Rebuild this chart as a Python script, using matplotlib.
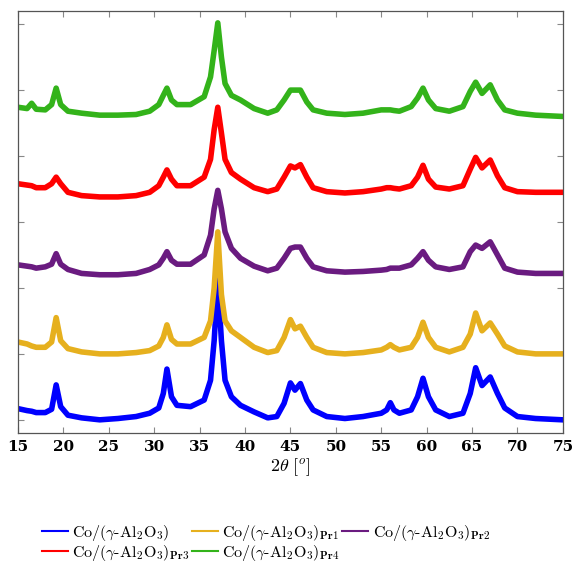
import numpy as np
import matplotlib
matplotlib.use('Agg')
import matplotlib.pyplot as plt

plt.rcParams['mathtext.fontset'] = 'cm'
plt.rcParams['font.family'] = 'serif'
plt.rcParams['font.serif'] = ['DejaVu Serif']

# angulos 2theta (mais densos perto dos picos)
theta2 = [15, 16, 16.5, 17, 18, 18.7, 19.2, 19.7, 20.5, 22, 24, 26, 28, 29.5, 30.5,
          31, 31.4, 31.9, 32.5, 34, 35.5, 36.2, 36.6, 37.0, 37.4, 37.8, 38.5, 39.5,
          41, 42.5, 43.5, 44.3, 45.0, 45.5, 46.1, 46.8, 47.5, 49, 51, 53, 55, 55.6,
          56.0, 56.4, 57, 58.3, 59.0, 59.6, 60.2, 61, 62.5, 64, 64.8, 65.4, 66.1,
          67.0, 67.8, 68.6, 70, 72, 75]

# intensidades (u.a., ja deslocadas verticalmente)
co_al2o3 = [0.17, 0.14, 0.13, 0.11, 0.11, 0.16, 0.53, 0.2, 0.07, 0.03, 0.0, 0.02,
            0.05, 0.1, 0.18, 0.4, 0.77, 0.35, 0.22, 0.2, 0.3, 0.6, 1.2, 2.12, 1.2,
            0.6, 0.35, 0.22, 0.12, 0.03, 0.05, 0.25, 0.56, 0.45, 0.55, 0.3, 0.15,
            0.05, 0.02, 0.05, 0.1, 0.15, 0.26, 0.15, 0.1, 0.15, 0.35, 0.63, 0.35,
            0.15, 0.05, 0.1, 0.4, 0.79, 0.52, 0.65, 0.4, 0.18, 0.05, 0.02, 0.0]
co_pr1 = [1.18, 1.15, 1.12, 1.1, 1.1, 1.18, 1.55, 1.2, 1.08, 1.03, 1.0, 1.0, 1.02,
          1.05, 1.12, 1.25, 1.44, 1.22, 1.15, 1.15, 1.25, 1.5, 2.0, 2.85, 1.9, 1.5,
          1.35, 1.25, 1.1, 1.02, 1.05, 1.25, 1.52, 1.38, 1.42, 1.25, 1.1, 1.02, 1.0,
          1.02, 1.06, 1.1, 1.14, 1.1, 1.06, 1.1, 1.25, 1.48, 1.25, 1.1, 1.03, 1.1,
          1.3, 1.62, 1.35, 1.47, 1.3, 1.12, 1.03, 1.0, 1.0]
co_pr2 = [2.35, 2.33, 2.32, 2.3, 2.32, 2.36, 2.52, 2.36, 2.28, 2.22, 2.2, 2.2, 2.22,
          2.28, 2.35, 2.45, 2.55, 2.42, 2.36, 2.36, 2.5, 2.8, 3.2, 3.48, 3.2, 2.85,
          2.6, 2.45, 2.33, 2.26, 2.3, 2.45, 2.6, 2.62, 2.62, 2.45, 2.32, 2.26, 2.24,
          2.25, 2.27, 2.28, 2.3, 2.3, 2.3, 2.35, 2.45, 2.55, 2.42, 2.32, 2.28, 2.32,
          2.55, 2.65, 2.6, 2.7, 2.5, 2.3, 2.24, 2.22, 2.22]
co_pr3 = [3.58, 3.56, 3.55, 3.52, 3.52, 3.58, 3.68, 3.58, 3.45, 3.4, 3.38, 3.38, 3.4,
          3.45, 3.55, 3.68, 3.79, 3.65, 3.55, 3.55, 3.68, 3.95, 4.4, 4.74, 4.35, 3.95,
          3.75, 3.65, 3.52, 3.46, 3.5, 3.68, 3.85, 3.82, 3.87, 3.68, 3.52, 3.46, 3.44,
          3.46, 3.5, 3.52, 3.52, 3.51, 3.5, 3.55, 3.68, 3.86, 3.65, 3.53, 3.5, 3.55,
          3.8, 3.98, 3.82, 3.94, 3.7, 3.52, 3.46, 3.45, 3.45]
co_pr4 = [4.74, 4.72, 4.8, 4.71, 4.7, 4.78, 5.03, 4.78, 4.68, 4.65, 4.62, 4.62, 4.63,
          4.68, 4.78, 4.92, 5.03, 4.85, 4.78, 4.78, 4.9, 5.2, 5.6, 6.02, 5.5, 5.1,
          4.92, 4.85, 4.72, 4.65, 4.7, 4.85, 5.0, 5.0, 5.0, 4.82, 4.7, 4.65, 4.63,
          4.65, 4.7, 4.7, 4.7, 4.69, 4.68, 4.75, 4.88, 5.03, 4.85, 4.72, 4.68, 4.75,
          4.98, 5.12, 4.95, 5.08, 4.85, 4.7, 4.65, 4.62, 4.6]

series = [co_al2o3, co_pr1, co_pr2, co_pr3, co_pr4]
cores = ['#0000ff', '#e6b01e', '#6a1b80', '#ff0000', '#33b31a']
rotulos = [r'$\mathrm{Co/(}\gamma\mathrm{\text{-}Al_2O_3)}$',
           r'$\mathrm{Co/(}\gamma\mathrm{\text{-}Al_2O_3)}_{\mathbf{Pr1}}$',
           r'$\mathrm{Co/(}\gamma\mathrm{\text{-}Al_2O_3)}_{\mathbf{Pr2}}$',
           r'$\mathrm{Co/(}\gamma\mathrm{\text{-}Al_2O_3)}_{\mathbf{Pr3}}$',
           r'$\mathrm{Co/(}\gamma\mathrm{\text{-}Al_2O_3)}_{\mathbf{Pr4}}$']

fig = plt.figure(figsize=(5.72, 5.62), dpi=100)
ax = fig.add_axes([0.0315, 0.2295, 0.9525, 0.751])

linhas = []
for y, c, r in zip(series, cores, rotulos):
    l, = ax.plot(theta2, y, color=c, lw=4, label=r)
    linhas.append(l)

ax.set_xlim(15, 75)
ax.set_ylim(-0.2, 6.2)
ax.set_xticks(np.arange(15, 76, 5))
ax.set_xticklabels([str(v) for v in range(15, 76, 5)], fontsize=11,
                   fontweight='bold', family='DejaVu Serif')
ax.set_yticks(range(0, 7))
ax.set_yticklabels([])
ax.tick_params(direction='in', top=True, right=True, length=4, color='#888888', pad=5)
for s in ax.spines.values():
    s.set_color('#555555')
    s.set_linewidth(0.9)

ax.set_xlabel(r'$2\theta\ [^o]$', fontsize=13, labelpad=2)

# legenda em linhas: a ordem abaixo preenche as colunas linha a linha
ordem = [0, 3, 1, 4, 2]
leg = ax.legend([linhas[i] for i in ordem], [rotulos[i] for i in ordem],
                loc='upper center', bbox_to_anchor=(0.455, -0.178), ncol=3, frameon=False,
                fontsize=11.5, handlelength=1.6, columnspacing=0.15, handletextpad=0.3,
                labelspacing=0.0)
for l in leg.get_lines():
    l.set_linewidth(1.5)

fig.savefig('out.png', dpi=100)
